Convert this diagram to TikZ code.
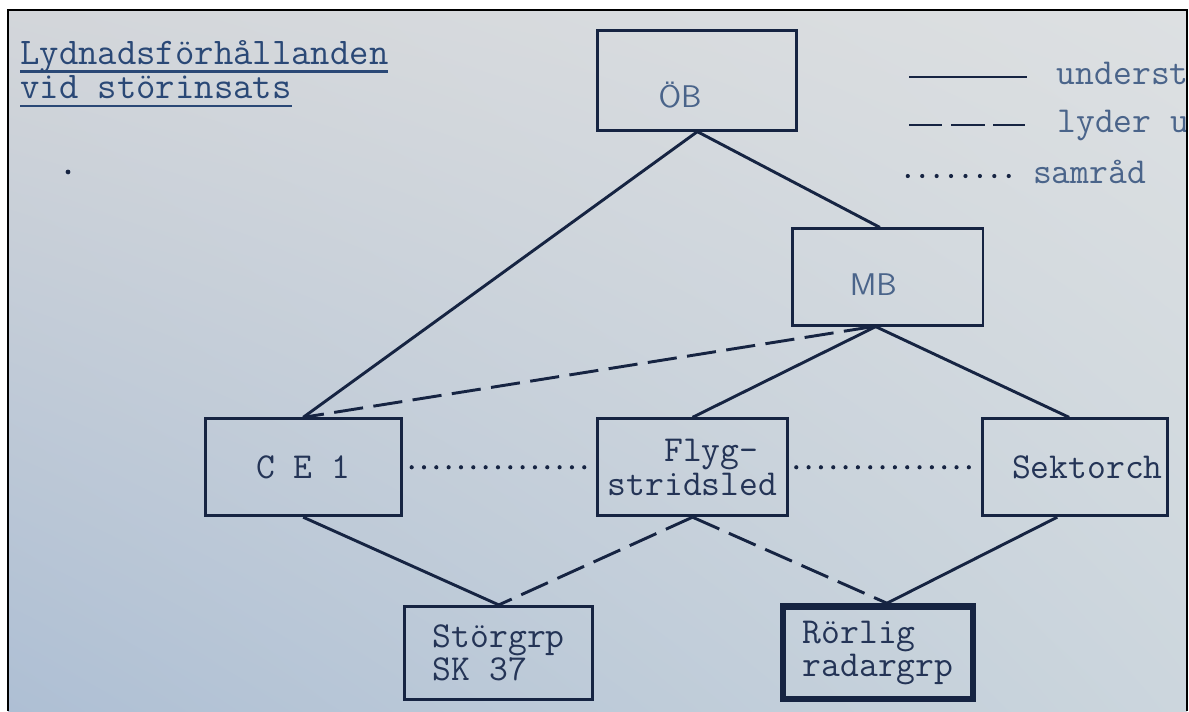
\documentclass[tikz,border=0pt]{standalone}
\usetikzlibrary{positioning,shadings}
\definecolor{inkdark}  {RGB}{ 22, 36, 66}
\definecolor{inktype}  {RGB}{ 36, 52, 86}
\definecolor{inkpale}  {RGB}{ 74,100,138}
\definecolor{inktitle} {RGB}{ 42, 72,118}
\definecolor{paperul}  {RGB}{211,214,218}
\definecolor{paperur}  {RGB}{221,224,226}
\definecolor{paperll}  {RGB}{174,191,212}
\definecolor{paperlr}  {RGB}{204,214,221}
\newcommand\typefont{\ttfamily\fontsize{17.5}{16}\selectfont}
\newcommand\titlefont{\ttfamily\fontsize{18}{16.3}\selectfont}
% underline a fixed distance below the baseline
\newcommand\ulined[1]{\setbox0\hbox{#1}\dp0=0pt\vtop{\box0\kern3pt\hrule height 1pt}}
\tikzset{
  box/.style={draw=inkdark,line width=1.4pt,minimum width=3.2cm,
              minimum height=1.63cm,font=\typefont,text=inktype,inner sep=2pt},
  boxthk/.style={box,line width=3pt},
  tag/.style={font=\sffamily\fontsize{15}{17}\selectfont,text=inkpale,inner sep=0pt},
  ln/.style={draw=inkdark,line width=1.4pt},
  lndash/.style={ln,dash pattern=on 14pt off 5pt},
  lndot/.style={draw=inkdark,line width=2pt,line cap=round,
                dash pattern=on 0pt off 5.9pt},
  lgd/.style={font=\typefont,text=inkpale,inner sep=0pt},
}
\begin{document}
\begin{tikzpicture}[node distance=3.24cm]
  \useasboundingbox (0,0) rectangle (20,11.96);
  % paper
  \fill[white] (0,0) rectangle (20,11.96);
  \shade[upper left=paperul,upper right=paperur,lower left=paperll,lower right=paperlr]
    (0.135,0) rectangle (19.966,11.79);
  \begin{scope}
  \clip (0.135,0) rectangle (19.966,11.79);
  % heading
  \node[anchor=north west,inner sep=0pt,align=left,font=\titlefont,text=inktitle]
    (title) at (0.336,11.29) {\ulined{Lydnadsförhållanden}\\\ulined{vid störinsats}};
  \fill[inkdark] (1.144,9.067) circle (0.04);
  % legend
  \coordinate (k1a) at (15.29,10.665); \coordinate (k1b) at (17.27,10.665);
  \coordinate (k2a) at (15.29,9.857);  \coordinate (k2b) at (17.24,9.857);
  \coordinate (k3a) at (15.27,8.999);  \coordinate (k3b) at (17.21,8.999);
  \draw[ln] (k1a) -- (k1b);
  \draw[ln,dash pattern=on 16pt off 4.2pt] (k2a) -- (k2b);
  \draw[lndot,dash pattern=on 0pt off 6.9pt] (k3a) -- (k3b);
  \node[lgd,right=0.50cm of k1b,anchor=base west,yshift=-0.12cm] (k1t) {underst};
  \node[lgd,right=0.54cm of k2b,anchor=base west,yshift=-0.12cm] (k2t) {lyder u};
  \node[lgd,right=0.16cm of k3b,anchor=base west,yshift=-0.12cm] (k3t) {samråd};
  % top levels
  \node[box,minimum width=3.35cm,minimum height=1.68cm] (ob) at (11.73,10.61) {};
  \node[tag] (obtag) at ([xshift=-0.29cm,yshift=-0.25cm]ob.center) {ÖB};
  \node[box,minimum width=3.21cm,minimum height=1.62cm] (mb) at (14.93,7.30) {};
  \node[tag] (mbtag) at ([xshift=-0.24cm,yshift=-0.13cm]mb.center) {MB};
  % middle row
  \node[box,minimum width=3.30cm] (ce) at (5.10,4.10) {C E 1};
  \node[box,right=3.25cm of ce,align=left] (flyg) {\phantom{str}Flyg-\\stridsled};
  \node[box,right=3.23cm of flyg,minimum width=3.11cm,text width=2.95cm,align=right] (sekt) {Sektorch};
  % bottom row
  \node[box,minimum width=3.16cm,minimum height=1.56cm,align=left] (stor) at (8.39,0.98) {Störgrp\\SK 37};
  \node[boxthk,minimum width=3.2cm,minimum height=1.56cm,align=left] (ror) at (14.77,0.98) {Rörlig\\radargrp};

  % lines
  \draw[ln] (ob.south) -- (ce.north);
  \draw[ln] (ob.south) -- ([xshift=-0.13cm]mb.north);
  \draw[lndash] ([xshift=-0.25cm]mb.south) -- (ce.north);
  \draw[ln] ([xshift=-0.2cm]mb.south) -- (flyg.north);
  \draw[ln] ([xshift=-0.2cm]mb.south) -- ([xshift=-0.1cm]sekt.north);
  \draw[lndot,shorten <=0.15cm,shorten >=0.07cm] (ce.east) -- (flyg.west);
  \draw[lndot,shorten <=0.12cm,shorten >=0.1cm] (flyg.east) -- (sekt.west);
  \draw[ln] (ce.south) -- (stor.north);
  \draw[lndash] (flyg.south) -- (stor.north);
  \draw[lndash] (flyg.south) -- ([xshift=0.15cm]ror.north);
  \draw[ln] ([xshift=-0.3cm]sekt.south) -- ([xshift=0.15cm]ror.north);
  \end{scope}
  % frame
  \draw[black,line width=1pt] (0.135,0) |- (19.966,11.79) -- (19.966,0);
\end{tikzpicture}
\end{document}
